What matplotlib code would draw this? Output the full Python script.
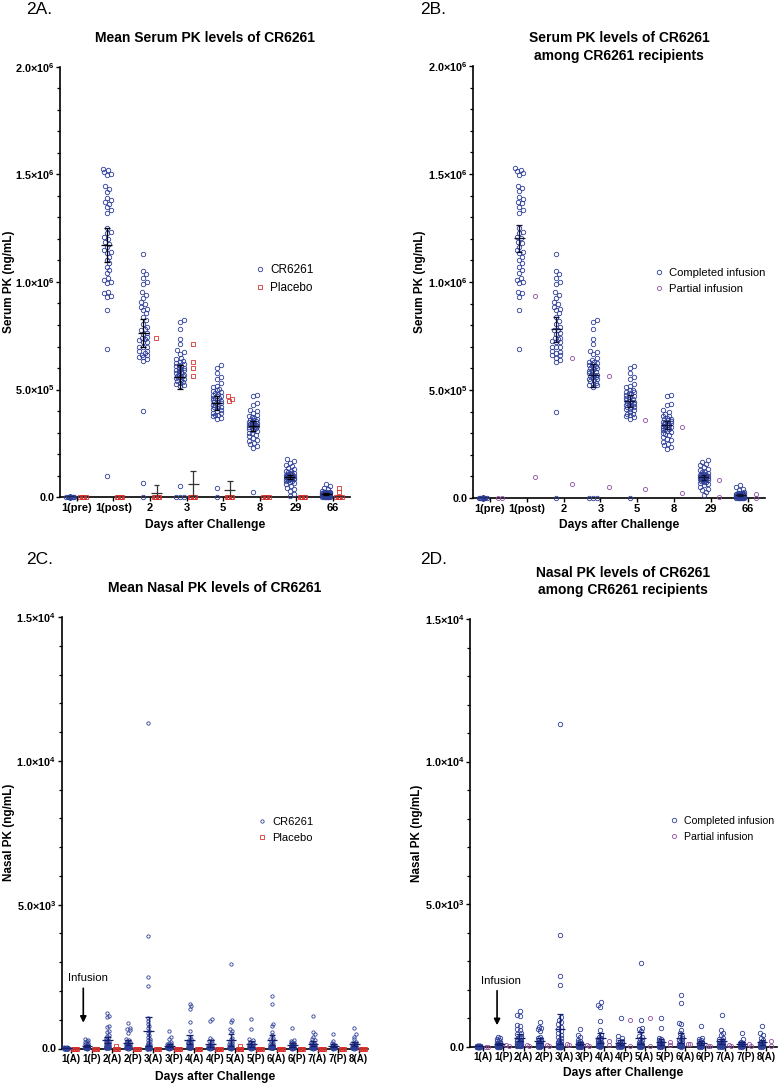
import numpy as np
import matplotlib
matplotlib.use('Agg')
import matplotlib.pyplot as plt
from matplotlib.lines import Line2D
from matplotlib.ticker import MultipleLocator, FuncFormatter

plt.rcParams['font.family'] = 'Liberation Sans'
plt.rcParams['mathtext.fontset'] = 'custom'
plt.rcParams['mathtext.rm'] = 'Liberation Sans:bold'
plt.rcParams['mathtext.bf'] = 'Liberation Sans:bold'
plt.rcParams['mathtext.default'] = 'bf'

# ---- data -------------------------------------------------------------
serum_days = ['1(pre)', '1(post)', '2', '3', '5', '8', '29', '66']

# serum PK, in 10^3 ng/mL, one list per day
serum_completed = [
    [0] * 42,
    [1527, 1519, 1512, 1504, 1496, 1445, 1434, 1419, 1393, 1383, 1372, 1365, 1349, 1334,
     1321, 1249, 1233, 1226, 1210, 1202, 1187, 1179, 1164, 1148, 1141, 1133, 1117, 1102,
     1087, 1071, 1056, 1040, 1017, 1009, 1002, 994, 955, 947, 932, 870, 688],
    [1128, 1053, 1037, 1020, 998, 989, 952, 940, 924, 909, 898, 886, 873, 870, 855, 839,
     821, 805, 793, 780, 777, 762, 760, 743, 740, 734, 728, 720, 720, 700, 700, 700, 680,
     677, 669, 662, 660, 650, 640, 631, 399, 0],
    [824, 816, 781, 734, 713, 682, 674, 666, 646, 640, 631, 630, 623, 620, 615, 610, 607,
     600, 600, 595, 589, 585, 580, 576, 570, 569, 565, 561, 560, 553, 550, 546, 540, 533,
     530, 522, 515, 590, 525, 0, 0, 0],
    [612, 600, 577, 558, 549, 530, 518, 512, 502, 500, 491, 490, 484, 480, 476, 470, 468,
     461, 460, 453, 450, 445, 440, 437, 430, 430, 422, 420, 414, 410, 406, 399, 391, 390,
     383, 380, 376, 368, 460, 440, 420, 0],
    [476, 471, 437, 430, 406, 399, 391, 380, 379, 370, 368, 365, 360, 356, 352, 350, 348,
     345, 343, 340, 337, 335, 333, 330, 329, 325, 321, 320, 314, 310, 306, 300, 298, 290,
     283, 275, 267, 260, 252, 245, 236, 229],
    [175, 167, 159, 151, 144, 136, 128, 121, 120, 115, 113, 110, 107, 105, 105, 102, 100,
     99, 98, 97, 95, 94, 92, 91, 90, 90, 88, 86, 85, 83, 82, 80, 75, 74, 70, 66, 59, 51,
     43, 36, 28, 12],
    [59, 51, 43, 36, 28, 25, 24, 22, 21, 20, 19, 18, 17, 16, 15, 14, 13, 12, 11, 10, 9, 9,
     8, 7, 7, 6, 6, 5, 5, 4, 4, 3, 3, 3, 2, 2, 2, 1, 1, 0, 0, 0],
]
serum_partial = [[0, 0], [935, 98], [650, 65], [563, 50], [363, 40], [327, 25], [84, 6], [20, 0]]
serum_placebo = [
    [0] * 40,
    [0] * 40,
    [741] + [0] * 39,
    [710, 629, 601, 564] + [0] * 36,
    [469, 458, 446] + [0] * 37,
    [0] * 40,
    [0] * 40,
    [42, 23] + [0] * 38,
]

nasal_times = ['1(A)', '1(P)', '2(A)', '2(P)', '3(A)', '3(P)', '4(A)', '4(P)',
               '5(A)', '5(P)', '6(A)', '6(P)', '7(A)', '7(P)', '8(A)']

# nasal PK, ng/mL
nasal_completed = [
    [40, 35, 30, 28, 25, 22, 20, 18, 16, 15, 14, 12, 11, 10, 10, 9, 8, 8, 7, 6, 6, 5, 5,
     4, 4, 3, 3, 2, 2, 1, 1, 0, 0, 0, 0, 0],
    [330, 300, 260, 230, 200, 170, 140, 120, 95, 80, 70, 60, 50, 45, 40, 35, 30, 28, 25,
     22, 20, 18, 15, 12, 10, 8, 6, 5, 3, 0],
    [1235, 1118, 1082, 765, 741, 624, 588, 470, 447, 376, 353, 294, 259, 235, 210, 190,
     176, 150, 130, 118, 100, 90, 80, 70, 60, 50, 40, 35, 30, 20, 15, 10],
    [870, 706, 670, 635, 553, 330, 294, 260, 235, 200, 176, 150, 130, 110, 95, 80, 70, 60,
     50, 40, 35, 30, 25, 20, 15, 10, 5, 0],
    [11300, 3906, 2470, 2176, 1050, 950, 860, 780, 700, 620, 540, 470, 400, 340, 290, 250,
     200, 170, 140, 118, 100, 90, 80, 70, 60, 50, 45, 40, 35, 30, 25, 20, 15, 12, 10, 8,
     7, 6, 5, 4, 3, 2, 1, 0, 0, 0],
    [612, 412, 330, 235, 200, 165, 140, 120, 94, 80, 70, 60, 55, 50, 45, 40, 35, 30, 25,
     20, 15, 12, 10, 8, 5, 3, 0],
    [1553, 1470, 1388, 918, 600, 412, 330, 300, 260, 230, 200, 176, 150, 130, 118, 100,
     90, 80, 70, 60, 50, 40, 30, 25, 20, 15, 10, 5],
    [1020, 365, 294, 250, 200, 160, 118, 100, 80, 70, 60, 50, 40, 35, 30, 25, 20, 15, 10,
     5, 0],
    [2941, 929, 670, 612, 553, 376, 330, 259, 220, 176, 150, 130, 110, 100, 82, 70, 60,
     50, 40, 35, 30, 25, 20, 15, 10, 5, 0],
    [1023, 670, 318, 280, 235, 200, 165, 140, 120, 100, 85, 70, 60, 50, 40, 30, 25, 20,
     15, 10, 5, 0],
    [1823, 1541, 847, 788, 576, 470, 365, 330, 294, 250, 200, 170, 140, 106, 90, 80, 70,
     60, 50, 40, 35, 30, 25, 20, 15, 10, 5],
    [718, 300, 260, 235, 200, 176, 150, 118, 100, 90, 80, 70, 60, 50, 40, 30, 25, 20, 15,
     10, 5, 0],
    [1118, 588, 494, 412, 318, 280, 240, 200, 170, 140, 106, 90, 80, 70, 60, 50, 40, 35,
     30, 25, 20, 15, 10, 5, 0],
    [494, 259, 176, 140, 120, 100, 85, 70, 60, 50, 40, 30, 25, 20, 15, 10, 5, 0],
    [729, 494, 412, 318, 223, 180, 141, 120, 100, 85, 70, 60, 50, 40, 30, 25, 20, 15, 10,
     5, 0],
]
nasal_partial = [[5, 0], [50, 20], [70, 20], [47, 20], [82, 60], [47, 24], [212, 60],
                 [950, 24], [1000, 24], [165, 47], [82, 80], [24, 20], [47, 12], [106, 24],
                 [200, 12]]
nasal_placebo = [[0] * 40 for _ in nasal_times]
nasal_placebo[2] = [100] + [0] * 39
nasal_placebo[8] = [80] + [0] * 39

# ---- style ------------------------------------------------------------
BLUE = '#2e3f98'
RED = '#d6322e'
PURPLE = '#9150a0'
W, H = 779, 1084

fig = plt.figure(figsize=(W / 100, H / 100), dpi=100)


def axes_px(l, t, r, b):
    return fig.add_axes([l / W, 1 - b / H, (r - l) / W, (b - t) / H])


def swarm_x(ax, xc, vals, d, w):
    """Spread points sideways so markers do not sit on top of each other."""
    vals = np.asarray(vals, float)
    tr = ax.transData
    x0 = tr.transform((xc, 0))[0]
    ppu = tr.transform((xc + 1, 0))[0] - x0
    ypx = tr.transform(np.column_stack([np.full(len(vals), xc), vals]))[:, 1]
    cands = sorted(np.arange(-w, w + 1e-9, d / 3), key=lambda c: (abs(c), c))
    placed = []
    off = np.zeros(len(vals))
    for i in np.argsort(vals, kind='stable'):
        y = ypx[i]
        near = [(px, py) for px, py in placed if abs(py - y) < d]
        best, bestd = 0.0, -1
        for c in cands:
            md = min([np.hypot(c - px, y - py) for px, py in near], default=np.inf)
            if md >= d:
                best = c
                break
            if md > bestd:
                best, bestd = c, md
        placed.append((best, y))
        off[i] = best
    return xc + off / ppu


def draw_points(ax, xc, vals, marker, color, ms, d, w, mew=0.6):
    xs = swarm_x(ax, xc, vals, d, w)
    ax.plot(xs, vals, ls='none', marker=marker, mfc='none', mec=color, ms=ms,
            mew=mew, clip_on=False, zorder=3)


def draw_mean_ci(ax, xc, vals, color, hw, cw, lw=0.9):
    v = np.asarray(vals, float)
    m = v.mean()
    h = 1.96 * v.std(ddof=1) / np.sqrt(len(v))
    kw = dict(color=color, lw=lw, zorder=4, solid_capstyle='butt')
    ax.plot([xc - hw, xc + hw], [m, m], **kw)
    ax.plot([xc, xc], [m - h, m + h], **kw)
    ax.plot([xc - cw, xc + cw], [m - h, m - h], **kw)
    ax.plot([xc - cw, xc + cw], [m + h, m + h], **kw)


def sci_fmt(v, pos):
    if abs(v) < 1e-9:
        return '0.0'
    if v < 0:
        return ''
    e = int(np.floor(np.log10(v) + 1e-9))
    return f'{v / 10 ** e:.1f}×10$^{{{e}}}$'


def style_axes(ax, labels, ymax, ystep, yminor, tick_fs):
    for s in ['top', 'right']:
        ax.spines[s].set_visible(False)
    for s in ['left', 'bottom']:
        ax.spines[s].set_linewidth(1.2)
    ax.set_xticks(range(len(labels)))
    ax.set_xticklabels(labels, fontsize=tick_fs, fontweight='bold')
    ax.set_ylim(0, ymax)
    ax.yaxis.set_major_locator(MultipleLocator(ystep))
    ax.yaxis.set_minor_locator(MultipleLocator(yminor))
    ax.yaxis.set_major_formatter(FuncFormatter(sci_fmt))
    ax.tick_params(axis='both', which='major', direction='out', length=3, width=1.0, pad=1)
    ax.tick_params(axis='y', which='major', labelsize=7.8)
    ax.tick_params(axis='y', which='minor', direction='out', length=2, width=0.9)
    for t in ax.get_yticklabels():
        t.set_fontweight('bold')


def fig_text(x, y, s, **kw):
    fig.text(x / W, 1 - y / H, s, va='center', **kw)


# ---- panel A ------------------------------------------------------------
axA = axes_px(60, 67, 350, 497)
axA.set_xlim(-0.46, 7.47)
style_axes(axA, serum_days, 2.0e6, 5e5, 1e5, 8)
for i in range(len(serum_days)):
    cr = (np.array(serum_completed[i] + serum_partial[i]) * 1e3).tolist()
    pl = (np.array(serum_placebo[i]) * 1e3).tolist()
    draw_points(axA, i - 0.18, cr, 'o', BLUE, 3.2, 4.0, 4.0)
    draw_points(axA, i + 0.18, pl, 's', RED, 3.0, 4.0, 3.0)
    draw_mean_ci(axA, i - 0.18, cr, 'black', 0.15, 0.08)
    draw_mean_ci(axA, i + 0.18, pl, '#333333', 0.15, 0.08)

# ---- panel B ------------------------------------------------------------
axB = axes_px(473, 66, 765, 498)
axB.set_xlim(-0.46, 7.47)
style_axes(axB, serum_days, 2.0e6, 5e5, 1e5, 8)
for i in range(len(serum_days)):
    comp = (np.array(serum_completed[i]) * 1e3).tolist()
    part = (np.array(serum_partial[i]) * 1e3).tolist()
    draw_points(axB, i - 0.2, comp, 'o', BLUE, 3.2, 4.0, 4.0)
    draw_points(axB, i + 0.22, part, 'o', PURPLE, 3.0, 4.0, 4.0)
    draw_mean_ci(axB, i - 0.2, comp, '#101030', 0.15, 0.08)

# ---- panel C ------------------------------------------------------------
axC = axes_px(61.7, 617, 368, 1048.5)
axC.set_xlim(-0.45, 14.45)
style_axes(axC, nasal_times, 1.5e4, 5e3, 1e3, 7)
for i in range(len(nasal_times)):
    cr = nasal_completed[i] + nasal_partial[i]
    draw_points(axC, i - 0.22, cr, 'o', BLUE, 2.4, 2.6, 2.0, mew=0.6)
    draw_points(axC, i + 0.22, nasal_placebo[i], 's', RED, 2.6, 2.6, 2.0)
    draw_mean_ci(axC, i - 0.22, cr, '#14206e', 0.26, 0.16)
axC.annotate('', xy=(0.6, 800), xytext=(0.6, 2190),
             arrowprops=dict(arrowstyle='-|>', color='black', lw=1.2, mutation_scale=9))
axC.text(0.83, 2440, 'Infusion', fontsize=8.2, ha='center', va='center')

# ---- panel D ------------------------------------------------------------
axD = axes_px(470, 619, 777, 1046.7)
axD.set_xlim(-0.65, 14.55)
style_axes(axD, nasal_times, 1.5e4, 5e3, 1e3, 7)
for i in range(len(nasal_times)):
    draw_points(axD, i - 0.2, nasal_completed[i], 'o', BLUE, 3.2, 3.2, 2.0)
    draw_points(axD, i + 0.25, nasal_partial[i], 'o', PURPLE, 3.0, 3.2, 2.0)
    draw_mean_ci(axD, i - 0.2, nasal_completed[i], '#14206e', 0.26, 0.16)
axD.annotate('', xy=(0.69, 656), xytext=(0.69, 2060),
             arrowprops=dict(arrowstyle='-|>', color='black', lw=1.2, mutation_scale=9))
axD.text(0.9, 2305, 'Infusion', fontsize=8.2, ha='center', va='center')

# ---- labels -------------------------------------------------------------
for ax, yl, xc, ylx, xly in [(axA, 'Serum PK (ng/mL)', 205, 9, 525),
                             (axB, 'Serum PK (ng/mL)', 619, 420, 525),
                             (axC, 'Nasal PK (ng/mL)', 215, 9, 1077),
                             (axD, 'Nasal PK (ng/mL)', 623, 417, 1073)]:
    bb = ax.get_position()
    ymid = (1 - (bb.y0 + bb.y1) / 2) * H
    fig_text(ylx, ymid, yl, fontsize=8.5, fontweight='bold', rotation=90, ha='center')
    fig_text(xc, xly, 'Days after Challenge', fontsize=8.7, fontweight='bold', ha='center')

fig_text(26, 9, '2A.', fontsize=12.5, ha='left')
fig_text(420, 9, '2B.', fontsize=12.5, ha='left')
fig_text(26, 560, '2C.', fontsize=12.5, ha='left')
fig_text(420, 560, '2D.', fontsize=12.5, ha='left')

fig_text(205, 38, 'Mean Serum PK levels of CR6261', fontsize=10, fontweight='bold', ha='center')
fig_text(619, 38, 'Serum PK levels of CR6261', fontsize=10, fontweight='bold', ha='center')
fig_text(619, 56, 'among CR6261 recipients', fontsize=10, fontweight='bold', ha='center')
fig_text(215, 588, 'Mean Nasal PK levels of CR6261', fontsize=10, fontweight='bold', ha='center')
fig_text(623, 573, 'Nasal PK levels of CR6261', fontsize=10, fontweight='bold', ha='center')
fig_text(623, 590, 'among CR6261 recipients', fontsize=10, fontweight='bold', ha='center')


# ---- legends ------------------------------------------------------------
def add_legend(items, x, y, fs):
    handles = [Line2D([], [], ls='none', marker=m, mfc='none', mec=c, ms=ms, mew=0.6, label=lab)
               for lab, m, c, ms in items]
    fig.legend(handles=handles, loc='center left', bbox_to_anchor=(x / W, 1 - y / H),
               frameon=False, fontsize=fs, handlelength=0.8, handletextpad=0.5,
               labelspacing=0.55, borderpad=0, borderaxespad=0)


add_legend([('CR6261', 'o', BLUE, 3.2), ('Placebo', 's', RED, 3.0)], 255, 279, 8.5)
add_legend([('Completed infusion', 'o', BLUE, 3.2), ('Partial infusion', 'o', PURPLE, 3.0)],
           654, 281, 8.1)
add_legend([('CR6261', 'o', BLUE, 2.4), ('Placebo', 's', RED, 2.4)], 258, 830, 8.0)
add_legend([('Completed infusion', 'o', BLUE, 3.2), ('Partial infusion', 'o', PURPLE, 3.0)],
           670, 829, 7.6)

fig.savefig('out.png', dpi=100)
